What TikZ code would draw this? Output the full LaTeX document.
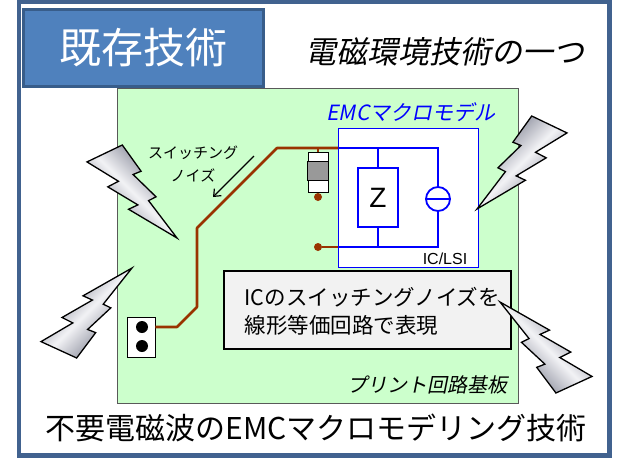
\documentclass[tikz,border=0pt]{standalone}
\usepackage{fontspec}
\setmainfont{Noto Sans CJK JP}
\newfontfamily\jpslant[FakeSlant=0.2]{Noto Sans CJK JP}
\newfontfamily\arialish{Liberation Sans}
\usetikzlibrary{arrows.meta,positioning}

\definecolor{framebl}{HTML}{41628F}
\definecolor{titlebl}{HTML}{4F81BD}
\definecolor{titleed}{HTML}{385D8A}
\definecolor{pcbgreen}{HTML}{CCFFCC}
\definecolor{tracebr}{HTML}{993300}
\definecolor{boltdk}{HTML}{686C7E}
\definecolor{boltlt}{HTML}{F2F2F5}

\newcommand{\fsz}[1]{\fontsize{#1}{#1}\selectfont}

\tikzset{
  trace/.style={draw=tracebr, line width=2.6pt, line join=round},
  circ/.style={draw=blue, line width=1.8pt},
  pad/.style={circle, fill=tracebr, inner sep=0pt, minimum size=8pt},
  pin/.style={circle, fill=black, inner sep=0pt, minimum size=12pt},
  box/.style={rectangle, inner sep=0pt, anchor=north west},
  boltshade/.style={draw=black, line width=1.3pt, line join=miter,
    left color=boltdk, right color=boltdk, middle color=boltlt},
  pics/bolt/.style={code={
    \path[boltshade, shading angle=#1]
      (0.392,0) -- (0,0.182) -- (0.350,0.390) -- (0.231,0.450)
      -- (0.565,0.644) -- (0.462,0.691) -- (1,1) -- (0.684,0.598)
      -- (0.767,0.557) -- (0.512,0.317) -- (0.601,0.282) -- cycle;
  }},
}

\begin{document}
\begin{tikzpicture}[x=1pt, y=-1pt, >={Straight Barb[length=6pt,width=10pt]}]
  \useasboundingbox (0,0) rectangle (619,461);

  % outer frame and board
  \draw[framebl, line width=4.5pt] (19,2) rectangle (609.5,455.5);
  \node[box, draw=gray!70!black, fill=pcbgreen, line width=0.8pt,
        minimum width=401pt, minimum height=315pt] (pcb) at (117,88) {};

  % heading
  \node[box, draw=titleed, fill=titlebl, line width=3.5pt, text=white,
        minimum width=240pt, minimum height=77pt, font=\fsz{42}]
        (title) at (21.5,7.5) {既存技術};
  \node[font=\jpslant\fsz{31}] (sub) at (445,52) {電磁環境技術の一つ};

  % IC macro model
  \node[blue, font=\jpslant\fsz{21}] (emc) at (411,112) {EMCマクロモデル};
  \node[box, draw=blue, fill=white, line width=1pt,
        minimum width=140pt, minimum height=139pt] (ic) at (338,128) {};
  \node[font=\arialish\fsz{16}] (iclbl) at (445,259) {IC/LSI};

  \coordinate (tl) at (338,148);
  \coordinate (tr) at (438,148);
  \coordinate (bl) at (338,247);
  \coordinate (br) at (438,247);
  \node[circ, fill=white, minimum width=40pt, minimum height=59pt, inner sep=0pt,
        font=\arialish\fsz{28}] (z) at (378,197.5) {Z};
  \node[circ, circle, minimum size=24pt, inner sep=0pt] (src) at (438,199) {};
  \draw[circ] (src.west) -- (src.east);
  \draw[circ] (tl) -- (tr) -- (src.north);
  \draw[circ] (src.south) -- (br) -- (bl);
  \draw[circ] (z.north) -- (z.north |- tl);
  \draw[circ] (z.south) -- (z.south |- bl);

  % resistor, pads and jumper
  \node[rectangle, draw, fill=white, line width=0.8pt, inner sep=0pt,
        minimum width=20pt, minimum height=40pt] (res) at (318,172) {};
  \draw[fill=gray!80, line width=0.8pt]
    ([yshift=-10pt]res.north west) rectangle ([yshift=12pt]res.south east);
  \node[pad] (padA) at (318,197) {};
  \node[pad] (padB) at (318,247) {};
  \node[rectangle, draw, fill=white, line width=0.8pt, inner sep=0pt,
        minimum width=28pt, minimum height=40pt] (jmp) at (141,337) {};
  \node[pin] (pinA) at (142,327) {};
  \node[pin] (pinB) at (142,346) {};

  % copper traces
  \draw[trace] (res.north) -- (res.north |- tl);
  \draw[trace] (padB) -- (bl);
  \draw[trace] (jmp.east |- pinA) -- (177,327) -- (197,307) -- (197,228)
    -- (277,148) -- (tl);

  % switching noise
  \node[font=\fontsize{15}{23}\selectfont, align=center] (noise) at (193,164)
    {スイッチング\\ノイズ};
  \coordinate (nz0) at (254,156);
  \coordinate (nz1) at (213,197);
  \draw[->, line width=1.2pt] (nz0) -- (nz1);

  % note
  \node[box, draw, fill=gray!10, line width=1.5pt,
        minimum width=287pt, minimum height=78pt] (note) at (223,270) {};
  \node[anchor=west, align=left, font=\fontsize{21.5}{28}\selectfont]
    (notetxt) at (241,311) {ICのスイッチングノイズを\\線形等価回路で表現};

  \node[font=\jpslant\fsz{20}] (pcblbl) at (427,385) {プリント回路基板};
  \node[font=\fsz{30}] (caption) at (316,428) {不要電磁波のEMCマクロモデリング技術};

  % radiated emission
  \pic[xscale=90, yscale=93] at (87,145) {bolt=-45};
  \pic[xscale=-90, yscale=93] at (567,116) {bolt=45};
  \pic[xscale=91, yscale=-90] at (41,358) {bolt=45};
  \pic[xscale=-92, yscale=-91] at (592,393) {bolt=-45};
\end{tikzpicture}
\end{document}
